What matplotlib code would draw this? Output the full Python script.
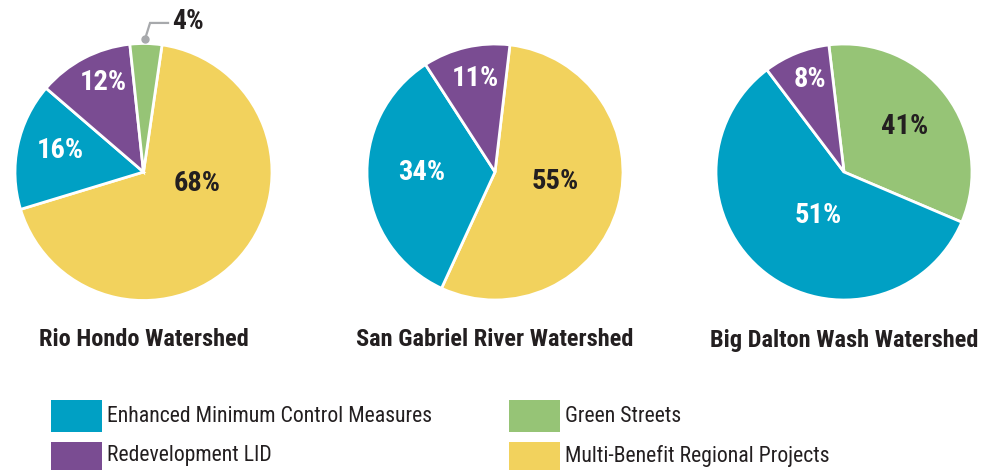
import matplotlib
matplotlib.use('Agg')
import matplotlib.pyplot as plt
from matplotlib.patches import Rectangle
from matplotlib.lines import Line2D

# ---------------- data ----------------
categories = ['Enhanced Minimum Control Measures', 'Redevelopment LID',
              'Green Streets', 'Multi-Benefit Regional Projects']
category_colors = ['#00A0C4', '#7A4C92', '#96C476', '#F2D25D']

watersheds = ['Rio Hondo Watershed', 'San Gabriel River Watershed',
              'Big Dalton Wash Watershed']

rio_cats = ['Multi-Benefit Regional Projects', 'Enhanced Minimum Control Measures',
            'Redevelopment LID', 'Green Streets']
rio_values = [68, 16, 12, 4]
rio_labels = ['68%', '16%', '12%', '4%']

sg_cats = ['Multi-Benefit Regional Projects', 'Enhanced Minimum Control Measures',
           'Redevelopment LID']
sg_values = [55, 34, 11]
sg_labels = ['55%', '34%', '11%']

bd_cats = ['Green Streets', 'Enhanced Minimum Control Measures', 'Redevelopment LID']
bd_values = [33.3, 58.3, 8.4]   # wedge shares as drawn in the source graphic
bd_labels = ['41%', '51%', '8%']

# ---------------- layout ----------------
W, H = 994, 470
DARK = '#231F20'
FONT = 'Roboto Condensed'
color_of = dict(zip(categories, category_colors))
light_text = {'Enhanced Minimum Control Measures', 'Redevelopment LID'}

pies = [
    dict(cats=rio_cats, vals=rio_values, labels=rio_labels, cx=143.5, cy=172, r=128.5, start=81.7,
         pos=[(0.416, -0.086), (-0.650, 0.171), (-0.315, 0.700), None]),
    dict(cats=sg_cats, vals=sg_values, labels=sg_labels, cx=495, cy=172, r=128, start=83.3,
         pos=[(0.469, -0.078), (-0.570, 0.0), (-0.156, 0.734)]),
    dict(cats=bd_cats, vals=bd_values, labels=bd_labels, cx=844, cy=172, r=128, start=96.8,
         pos=[(0.477, 0.352), (-0.203, -0.336), (-0.266, 0.719)]),
]

fig = plt.figure(figsize=(W / 100, H / 100), dpi=100)
fig.patch.set_facecolor('white')

for p, title in zip(pies, watersheds):
    cx, cy, r = p['cx'], p['cy'], p['r']
    ax = fig.add_axes([(cx - r) / W, 1 - (cy + r) / H, 2 * r / W, 2 * r / H])
    ax.pie(p['vals'], colors=[color_of[c] for c in p['cats']], startangle=p['start'],
           counterclock=False, radius=1.0,
           wedgeprops=dict(edgecolor='white', linewidth=2.0))
    ax.set_xlim(-1, 1)
    ax.set_ylim(-1, 1)
    ax.set_aspect('auto')
    ax.axis('off')
    for cat, lab, pos in zip(p['cats'], p['labels'], p['pos']):
        if pos is None:
            # outside label with leader line
            ax.add_line(Line2D([0.012, 0.051, 0.191], [1.035, 1.160, 1.160],
                               color='#A7A9AC', lw=1.6, clip_on=False,
                               solid_joinstyle='miter'))
            ax.plot([0.012], [1.035], 'o', color='#A7A9AC', ms=5, clip_on=False)
            ax.text(0.222, 1.171, lab, ha='left', va='center', fontsize=20,
                    fontweight='bold', family=FONT, color=DARK, clip_on=False)
            continue
        col = 'white' if cat in light_text else DARK
        ax.text(pos[0], pos[1], lab, ha='center', va='center', fontsize=20.5,
                fontweight='bold', family=FONT, color=col)
    fig.text(cx / W, 1 - 340 / H, title, ha='center', va='center', fontsize=17.6,
             fontweight='bold', family=FONT, color=DARK)

# ---------------- legend ----------------
legend_cols = [(51, 107), (509, 565)]
legend_rows = [(400, 432), (442, 470)]
legend_order = [('Enhanced Minimum Control Measures', 0, 0), ('Redevelopment LID', 0, 1),
                ('Green Streets', 1, 0), ('Multi-Benefit Regional Projects', 1, 1)]
for cat, ci, ri in legend_order:
    x0, tx = legend_cols[ci]
    y0, y1 = legend_rows[ri]
    fig.add_artist(Rectangle((x0 / W, 1 - y1 / H), 51 / W, (y1 - y0) / H,
                             transform=fig.transFigure, facecolor=color_of[cat],
                             edgecolor='none'))
    fig.text(tx / W, 1 - (y0 + y1) / 2 / H, cat, ha='left', va='center',
             fontsize=15.7, family=FONT, color=DARK)

fig.savefig('out.png', dpi=100, facecolor='white')
